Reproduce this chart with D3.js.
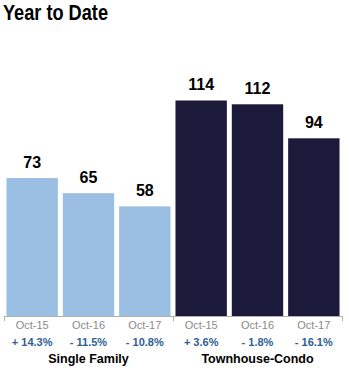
<!DOCTYPE html>
<html>
<head>
<meta charset="utf-8">
<script src="https://cdn.jsdelivr.net/npm/d3@7"></script>
<style>
  html, body { margin: 0; padding: 0; background: #fff; }
  svg { display: block; }
</style>
</head>
<body>
<svg id="chart" width="349" height="380"></svg>
<script>
const groups = ["Single Family", "Townhouse-Condo"];
const periods = ["Oct-15", "Oct-16", "Oct-17"];
const singleFamily = [73, 65, 58];
const townhouseCondo = [114, 112, 94];
const singleFamilyChange = ["+ 14.3%", "- 11.5%", "- 10.8%"];
const townhouseCondoChange = ["+ 3.6%", "- 1.8%", "- 16.1%"];

const colors = { "Single Family": "#9bbfe2", "Townhouse-Condo": "#1b1a3b" };

const rows = [];
groups.forEach((g, gi) => {
  const vals = gi === 0 ? singleFamily : townhouseCondo;
  const chg = gi === 0 ? singleFamilyChange : townhouseCondoChange;
  periods.forEach((p, pi) => rows.push({ key: g + "|" + p, group: g, period: p, value: vals[pi], change: chg[pi] }));
});

const svg = d3.select("#chart");
const left = 4, right = 342, baseY = 316;

const x = d3.scaleBand()
  .domain(rows.map(d => d.key))
  .range([left, right])
  .paddingInner(0.088)
  .paddingOuter(0.044);

const y = d3.scaleLinear().domain([0, 114]).range([baseY, 100.5]);

// Title
svg.append("text")
  .attr("x", 3).attr("y", 20)
  .attr("font-family", "'Liberation Sans', Arial, sans-serif")
  .attr("font-weight", "bold")
  .attr("font-size", 22)
  .attr("textLength", 105)
  .attr("lengthAdjust", "spacingAndGlyphs")
  .attr("fill", "#000")
  .text("Year to Date");

// Bars
svg.selectAll("rect.bar").data(rows).join("rect")
  .attr("class", "bar")
  .attr("x", d => x(d.key))
  .attr("width", x.bandwidth())
  .attr("y", d => y(d.value))
  .attr("height", d => y(0) - y(d.value))
  .attr("fill", d => colors[d.group]);

// Value labels
svg.selectAll("text.val").data(rows).join("text")
  .attr("class", "val")
  .attr("x", d => x(d.key) + x.bandwidth() / 2)
  .attr("y", d => y(d.value) - 10.5)
  .attr("text-anchor", "middle")
  .attr("font-family", "Liberation Sans, Arial, sans-serif")
  .attr("font-weight", "bold")
  .attr("font-size", 16)
  .attr("fill", "#000")
  .text(d => d.value);

// Axis line with group separator ticks
const groupWidth = (right - left) / groups.length;
const axis = svg.append("g").attr("stroke", "#b0b0b0").attr("stroke-width", 1);
axis.append("line")
  .attr("x1", left).attr("x2", right)
  .attr("y1", baseY + 0.5).attr("y2", baseY + 0.5);
d3.range(groups.length + 1).forEach(i => {
  const tx = Math.round(left + i * groupWidth) + 0.5;
  axis.append("line").attr("x1", tx).attr("x2", tx).attr("y1", baseY).attr("y2", baseY + 5);
});

// Period tick labels
svg.selectAll("text.tick").data(rows).join("text")
  .attr("class", "tick")
  .attr("x", d => x(d.key) + x.bandwidth() / 2)
  .attr("y", 329)
  .attr("text-anchor", "middle")
  .attr("font-family", "Liberation Sans, Arial, sans-serif")
  .attr("font-size", 11)
  .attr("fill", "#8a8a8a")
  .text(d => d.period);

// Percent change labels
svg.selectAll("text.chg").data(rows).join("text")
  .attr("class", "chg")
  .attr("x", d => x(d.key) + x.bandwidth() / 2)
  .attr("y", 345.5)
  .attr("text-anchor", "middle")
  .attr("font-family", "Liberation Sans, Arial, sans-serif")
  .attr("font-weight", "bold")
  .attr("font-size", 11)
  .attr("fill", "#2d5e94")
  .text(d => d.change);

// Group labels
svg.selectAll("text.grp").data(groups).join("text")
  .attr("class", "grp")
  .attr("x", (d, i) => left + (i + 0.5) * groupWidth)
  .attr("y", 363)
  .attr("text-anchor", "middle")
  .attr("font-family", "Liberation Sans, Arial, sans-serif")
  .attr("font-weight", "bold")
  .attr("font-size", 12.5)
  .attr("fill", "#000")
  .text(d => d);
</script>
</body>
</html>
